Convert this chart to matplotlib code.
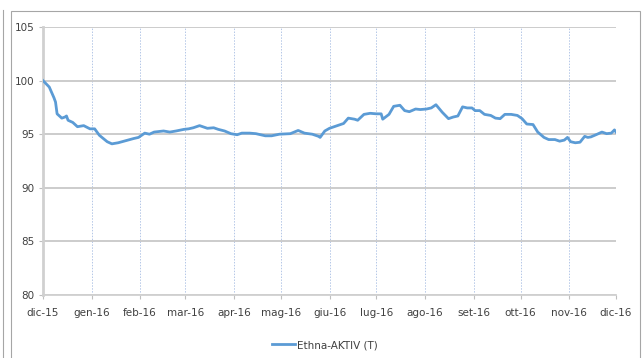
import numpy as np
import pandas as pd
import matplotlib
matplotlib.use("Agg")
import matplotlib.pyplot as plt
from matplotlib.patches import Rectangle
from matplotlib.lines import Line2D

# giorni dal 01/12/2015 e valore del fondo
giorni = [0, 4, 7, 8, 9, 12, 14, 15, 16, 19, 22, 26, 30, 33, 36, 41, 44, 48, 53, 58,
          61, 65, 68, 71, 77, 81, 85, 90, 93, 96, 100, 105, 109, 112, 116, 120, 124, 127,
          132, 136, 142, 146, 151, 158, 163, 167, 172, 176, 177, 180, 183, 188, 192, 195,
          199, 201, 205, 209, 213, 216, 217, 221, 224, 228, 231, 234, 238, 241, 245, 248,
          251, 255, 259, 262, 265, 268, 271, 274, 276, 279, 282, 286, 289, 292, 295, 299,
          303, 306, 309, 313, 316, 320, 323, 327, 330, 333, 335, 337, 340, 343, 346, 348,
          350, 354, 357, 360, 363, 365, 366]
valori = [100.0, 99.4, 98.4, 98.0, 96.9, 96.5, 96.6, 96.7, 96.3, 96.1, 95.7, 95.8, 95.5, 95.5,
          94.9, 94.3, 94.1, 94.2, 94.4, 94.6, 94.7, 95.1, 95.0, 95.2, 95.3, 95.2, 95.3, 95.45,
          95.5, 95.6, 95.8, 95.55, 95.6, 95.45, 95.3, 95.05, 94.95, 95.1, 95.1, 95.05, 94.85,
          94.85, 95.0, 95.05, 95.35, 95.1, 95.0, 94.8, 94.7, 95.3, 95.55, 95.8, 96.0, 96.5,
          96.4, 96.3, 96.85, 96.95, 96.9, 96.9, 96.4, 96.85, 97.6, 97.7, 97.2, 97.1, 97.35,
          97.3, 97.35, 97.45, 97.75, 97.05, 96.45, 96.6, 96.7, 97.55, 97.45, 97.45, 97.2,
          97.2, 96.85, 96.75, 96.5, 96.45, 96.85, 96.85, 96.75, 96.45, 95.95, 95.9, 95.2,
          94.7, 94.5, 94.5, 94.35, 94.45, 94.7, 94.3, 94.2, 94.25, 94.8, 94.7, 94.75, 95.0,
          95.2, 95.05, 95.1, 95.4, 95.2]

mesi = ['dic-15', 'gen-16', 'feb-16', 'mar-16', 'apr-16', 'mag-16', 'giu-16',
        'lug-16', 'ago-16', 'set-16', 'ott-16', 'nov-16', 'dic-16']
serie = 'Ethna-AKTIV (T)'

inizio = pd.Timestamp('2015-12-01')
date = inizio + pd.to_timedelta(giorni, unit='D')
date_mesi = pd.date_range('2015-12-01', periods=len(mesi), freq='MS')

plt.rcParams['font.family'] = ['Liberation Sans Narrow', 'DejaVu Sans']

W, H = 644, 358
fig = plt.figure(figsize=(W / 100, H / 100), dpi=100)

# cornici esterne
fig.add_artist(Line2D([3 / W, 3 / W], [0, 1 - 10 / H], transform=fig.transFigure,
                      color='#A6A6A6', lw=0.8))
fig.add_artist(Rectangle((11 / W, -0.05), (640 - 11) / W, 1.05 - 11 / H,
                         transform=fig.transFigure, fill=False,
                         edgecolor='#A6A6A6', lw=0.8))

ax = fig.add_axes([43 / W, 1 - 295 / H, (616 - 43) / W, (295 - 27) / H])

ax.plot(date, valori, color='#5B9BD5', lw=2.0, label=serie, zorder=3)

ax.set_ylim(80, 105)
ax.set_yticks(np.arange(80, 106, 5))
ax.set_xlim(date_mesi[0], date_mesi[-1])
ax.set_xticks(date_mesi)
ax.set_xticklabels(mesi)

ax.grid(axis='y', color='#C8C8C8', lw=1.3)
for d in date_mesi[1:]:
    ax.axvline(d, color='#B4C7E7', lw=0.7, ls=(0, (1.5, 1.5)), zorder=1)

for s in ['top', 'right']:
    ax.spines[s].set_visible(False)
ax.spines['left'].set_color('#D0D0D0')
ax.spines['left'].set_linewidth(2)
ax.spines['bottom'].set_color('#D0D0D0')
ax.spines['bottom'].set_linewidth(1.3)

ax.tick_params(axis='both', colors='#BFBFBF', labelcolor='#404040', labelsize=7.5, length=3)
ax.tick_params(axis='x', pad=6)
ax.tick_params(axis='y', pad=3)

fig.legend(loc='center', bbox_to_anchor=(325 / W, 1 - 345 / H), frameon=False,
           fontsize=7.5, handlelength=2.2, handletextpad=0.2, labelcolor='#404040')

fig.savefig('out.png', dpi=100)
